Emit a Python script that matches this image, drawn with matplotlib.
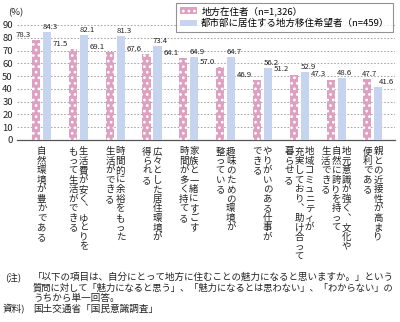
import matplotlib
matplotlib.use("Agg")
import matplotlib.pyplot as plt
import numpy as np

plt.rcParams['font.family'] = ['Noto Sans CJK JP', 'DejaVu Sans']
plt.rcParams['hatch.linewidth'] = 1.2

# ---- data ----
categories = [
    ["自然環境が豊かである"],
    ["生活費が安く︑ゆとりを", "もって生活ができる"],
    ["時間的に余裕をもった", "生活ができる"],
    ["広々とした居住環境が", "得られる"],
    ["家族と一緒にすごす", "時間が多く持てる"],
    ["趣味のための環境が", "整っている"],
    ["やりがいのある仕事が", "できる"],
    ["地域コミュニティが", "充実しており︑助け合って", "暮らせる"],
    ["地元意識が強く︑文化や", "自然に誇りを持って", "生活できる"],
    ["親との近接性が高まり", "便利である"],
]
local_residents = [78.3, 71.5, 69.1, 67.6, 64.1, 57.0, 46.9, 51.2, 47.3, 47.7]
urban_hopefuls = [84.3, 82.1, 81.3, 73.4, 64.9, 64.7, 56.2, 52.9, 48.6, 41.6]
series_names = ["地方在住者（n=1,326）", "都市部に居住する地方移住希望者（n=459）"]
yticks = [0, 10, 20, 30, 40, 50, 60, 70, 80, 90]
note_lines = [
    "「以下の項目は、自分にとって地方に住むことの魅力になると思いますか。」という",
    "質問に対して「魅力になると思う」、「魅力になるとは思わない」、「わからない」の",
    "うちから単一回答。",
]
source_line = "国土交通省「国民意識調査」"

pink = "#dea0c1"
blue = "#c6d4ef"

W, H = 400, 322
fig = plt.figure(figsize=(W / 100, H / 100), dpi=100)
ax = fig.add_axes([17 / W, 1 - 140 / H, (395 - 17) / W, (140 - 25) / H])

x = np.arange(len(categories))
bw = 0.22
off = 0.15
ax.bar(x - off, local_residents, bw, color=pink, edgecolor="white",
       linewidth=0, hatch="...", label=series_names[0], zorder=3)
ax.bar(x + off, urban_hopefuls, bw, color=blue, linewidth=0,
       label=series_names[1], zorder=3)

vfs = 5.6
for i, (a, b) in enumerate(zip(local_residents, urban_hopefuls)):
    if a <= b:
        ax.annotate(f"{a:.1f}", xy=(i - off - bw / 2, a), xytext=(-0.6, 0.8),
                    textcoords="offset points", ha="right", va="bottom",
                    fontsize=vfs, color="#222")
        ax.annotate(f"{b:.1f}", xy=(i + off - bw / 2, b), xytext=(-0.3, 0.8),
                    textcoords="offset points", ha="left", va="bottom",
                    fontsize=vfs, color="#222")
    else:
        ax.annotate(f"{a:.1f}", xy=(i - off, a), xytext=(1.5, 0.8),
                    textcoords="offset points", ha="center", va="bottom",
                    fontsize=vfs, color="#222")
        ax.annotate(f"{b:.1f}", xy=(i + off, b), xytext=(0.5, 0.8),
                    textcoords="offset points", ha="left", va="bottom",
                    fontsize=vfs, color="#222")

ax.set_xlim(-0.666, 9.6)
ax.set_ylim(0, 90)
ax.set_yticks(yticks)
ax.set_yticklabels([str(t) for t in yticks], fontsize=6.8, color="#222")
ax.set_xticks([])
ax.tick_params(axis="y", length=0, pad=3)
for s in ["left", "top", "right"]:
    ax.spines[s].set_visible(False)
ax.spines["bottom"].set_color("#555")
ax.spines["bottom"].set_linewidth(0.9)
ax.yaxis.grid(True, linestyle=(0, (2, 2)), color="#999", linewidth=0.6, zorder=0)
ax.set_axisbelow(True)

# vertical category labels
row_pt = 6.84
col_pt = 7.4
top_pt = -8.6
for i, cols in enumerate(categories):
    n = len(cols)
    for j, col in enumerate(cols):
        dx = ((n - 1) / 2 - j) * col_pt
        for k, ch in enumerate(col):
            ax.annotate(ch, xy=(i, 0), xycoords=("data", "axes fraction"),
                        xytext=(dx, top_pt - k * row_pt), textcoords="offset points",
                        ha="center", va="center", fontsize=6.8, color="#222",
                        annotation_clip=False)

fig.text(8 / W, 1 - 13 / H, "(%)", fontsize=6.8, va="center", ha="left", color="#222")

leg = ax.legend(loc="upper right", bbox_to_anchor=(393 / W, 1 - 3 / H),
                bbox_transform=fig.transFigure, fontsize=6.8, frameon=True,
                fancybox=False, borderpad=0.35, labelspacing=0.3,
                handlelength=1.8, handleheight=0.75, handletextpad=0.5,
                borderaxespad=0)
leg.get_frame().set_edgecolor("#777")
leg.get_frame().set_linewidth(0.8)
leg.set_zorder(10)

fs = 6.9
ys = [277, 288, 298.5, 309.5]
fig.text(5 / W, 1 - ys[0] / H, "(注)", fontsize=fs, va="center", ha="left", color="#222")
renderer = fig.canvas.get_renderer()
max_w = 364
for k, line in enumerate(note_lines):
    t = fig.text(33 / W, 1 - ys[k] / H, line, fontsize=fs, va="center",
                 ha="left", color="#222")
    w = t.get_window_extent(renderer).width
    if w > max_w:
        t.set_fontsize(fs * max_w / w)
fig.text(3 / W, 1 - ys[3] / H, "資料)", fontsize=fs, va="center", ha="left", color="#222")
fig.text(33 / W, 1 - ys[3] / H, source_line, fontsize=fs, va="center", ha="left", color="#222")

fig.savefig("out.png", dpi=100)
